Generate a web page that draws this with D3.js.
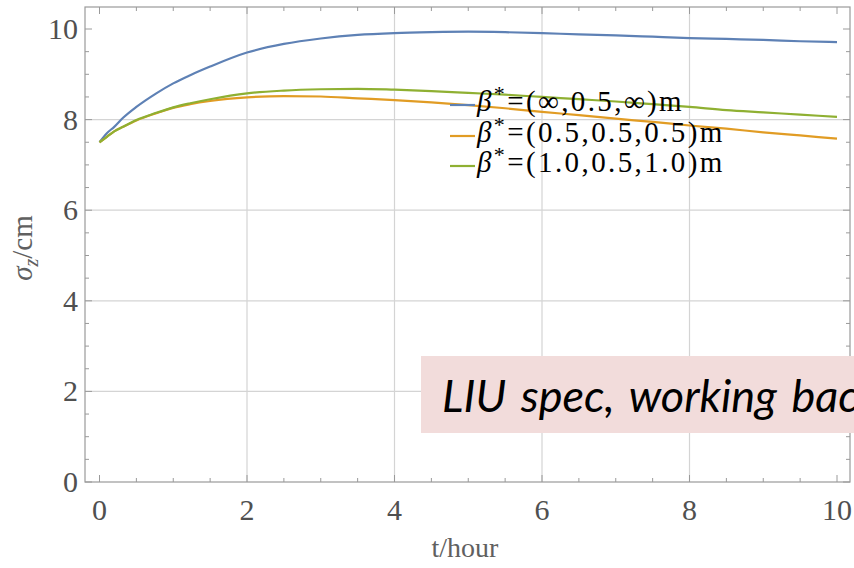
<!DOCTYPE html>
<html>
<head>
<meta charset="utf-8">
<script src="https://cdn.jsdelivr.net/npm/d3@7"></script>
<style>
  html, body { margin: 0; padding: 0; background: #fff; }
  svg { display: block; }
</style>
</head>
<body>
<svg id="chart" width="854" height="568"></svg>
<script>
// Bunch length evolution for three beta* configurations
const hours = [0, 0.1, 0.2, 0.32, 0.5, 0.77, 1, 1.23, 1.5, 2, 2.5, 3, 3.5, 4, 4.5, 5, 5.5, 6, 6.5, 7, 7.5, 8, 8.5, 9, 9.5, 10];
const sigmaInf = [7.5, 7.70, 7.84, 8.04, 8.28, 8.58, 8.80, 8.98, 9.17, 9.48, 9.67, 9.79, 9.87, 9.91, 9.93, 9.94, 9.93, 9.91, 9.88, 9.86, 9.83, 9.80, 9.78, 9.76, 9.73, 9.71];
const sigma05 = [7.5, 7.62, 7.74, 7.84, 7.98, 8.14, 8.26, 8.34, 8.41, 8.49, 8.52, 8.51, 8.47, 8.43, 8.38, 8.32, 8.25, 8.17, 8.10, 8.02, 7.95, 7.87, 7.80, 7.72, 7.65, 7.58];
const sigma10 = [7.5, 7.62, 7.74, 7.84, 7.99, 8.15, 8.27, 8.36, 8.45, 8.58, 8.64, 8.67, 8.68, 8.66, 8.63, 8.59, 8.55, 8.50, 8.45, 8.40, 8.34, 8.28, 8.21, 8.16, 8.11, 8.06];
const seriesNames = ["(\u221E,0.5,\u221E)m", "(0.5,0.5,0.5)m", "(1.0,0.5,1.0)m"];
const seriesValues = [sigmaInf, sigma05, sigma10];
const seriesColors = ["#5e81b5", "#e19c24", "#8fb032"];
const xTicks = [0, 2, 4, 6, 8, 10];
const yTicks = [0, 2, 4, 6, 8, 10];
const gridValues = [2, 4, 6, 8];
const noteText = "LIU spec, working backwards";

const svg = d3.select("#chart");
const frame = { left: 85, right: 850, top: 7, bottom: 482 };

const x = d3.scaleLinear().domain([0, 10]).range([99.5, 837]);
const y = d3.scaleLinear().domain([0, 10]).range([482, 29]);

const frameColor = "#9a9a9a";
const labelColor = "#505050";
const serif = "'Liberation Serif', 'Times New Roman', serif";

// grid lines
const grid = svg.append("g");
grid.selectAll("line.gx").data(gridValues).join("line")
  .attr("x1", d => x(d)).attr("x2", d => x(d))
  .attr("y1", frame.top).attr("y2", frame.bottom)
  .attr("stroke", "#d4d4d4").attr("stroke-width", 1.2);
grid.selectAll("line.gy").data(gridValues).join("line")
  .attr("y1", d => y(d)).attr("y2", d => y(d))
  .attr("x1", frame.left).attr("x2", frame.right)
  .attr("stroke", "#d4d4d4").attr("stroke-width", 1.2);

// frame ticks (major every 2, minor every 0.5), pointing inward on all sides
const minor = d3.range(0, 10.01, 0.5);
function tickLen(v) { return Math.abs(v % 2) < 1e-6 ? 7 : 4; }
const tg = svg.append("g").attr("stroke", frameColor).attr("stroke-width", 1);
tg.selectAll("line.bt").data(minor).join("line")
  .attr("x1", d => x(d)).attr("x2", d => x(d))
  .attr("y1", frame.bottom).attr("y2", d => frame.bottom - tickLen(d));
tg.selectAll("line.tt").data(minor).join("line")
  .attr("x1", d => x(d)).attr("x2", d => x(d))
  .attr("y1", frame.top).attr("y2", d => frame.top + tickLen(d));
tg.selectAll("line.lt").data(minor).join("line")
  .attr("y1", d => y(d)).attr("y2", d => y(d))
  .attr("x1", frame.left).attr("x2", d => frame.left + tickLen(d));
tg.selectAll("line.rt").data(minor).join("line")
  .attr("y1", d => y(d)).attr("y2", d => y(d))
  .attr("x1", frame.right).attr("x2", d => frame.right - tickLen(d));

// frame box
svg.append("rect")
  .attr("x", frame.left).attr("y", frame.top)
  .attr("width", frame.right - frame.left).attr("height", frame.bottom - frame.top)
  .attr("fill", "none").attr("stroke", frameColor).attr("stroke-width", 1.2);

// tick labels
svg.append("g").selectAll("text").data(xTicks).join("text")
  .attr("x", d => x(d)).attr("y", 520)
  .attr("text-anchor", "middle")
  .attr("font-family", serif).attr("font-size", 30).attr("fill", labelColor)
  .text(d => d);
svg.append("g").selectAll("text").data(yTicks).join("text")
  .attr("x", 78).attr("y", d => y(d) + 10)
  .attr("text-anchor", "end")
  .attr("font-family", serif).attr("font-size", 30).attr("fill", labelColor)
  .text(d => d);

// axis titles
svg.append("text")
  .attr("x", 465).attr("y", 557)
  .attr("text-anchor", "middle")
  .attr("font-family", serif).attr("font-size", 28).attr("fill", "#606060")
  .text("t/hour");
const yl = svg.append("text")
  .attr("transform", "translate(32,248) rotate(-90)")
  .attr("text-anchor", "middle")
  .attr("font-family", serif).attr("font-size", 29).attr("fill", "#606060");
yl.append("tspan").attr("font-style", "italic").text("\u03C3");
yl.append("tspan").attr("font-style", "italic").attr("font-size", 20).attr("dy", 6).text("z");
yl.append("tspan").attr("dy", -6).text("/cm");

// curves
const line = d3.line()
  .x((d, i) => x(hours[i]))
  .y(d => y(d))
  .curve(d3.curveMonotoneX);
svg.append("g").selectAll("path").data(seriesValues).join("path")
  .attr("d", d => line(d))
  .attr("fill", "none")
  .attr("stroke", (d, i) => seriesColors[i])
  .attr("stroke-width", 2.2)
  .attr("stroke-linejoin", "round");

// legend
const legend = svg.append("g");
const rowY = [111, 142, 172];
seriesNames.forEach((name, i) => {
  legend.append("line")
    .attr("x1", 450).attr("x2", 475)
    .attr("y1", rowY[i] - 6).attr("y2", rowY[i] - 6)
    .attr("stroke", seriesColors[i]).attr("stroke-width", 2.2);
  const t = legend.append("text")
    .attr("x", 477).attr("y", rowY[i])
    .attr("font-family", serif).attr("font-size", 29)
    .attr("letter-spacing", 2.4).attr("fill", "#000");
  t.append("tspan").attr("font-style", "italic").text("\u03B2");
  t.append("tspan").attr("font-size", 22).attr("dy", -10).text("*");
  t.append("tspan").attr("dy", 10).text("=" + name);
});

// annotation box, running past the right edge of the page
svg.append("rect")
  .attr("x", 421).attr("y", 356)
  .attr("width", 440).attr("height", 77)
  .attr("fill", "#f2dcdb");
svg.append("text")
  .attr("x", 442).attr("y", 412)
  .attr("font-family", "Lato, 'Open Sans', sans-serif")
  .attr("font-style", "italic")
  .attr("font-size", 45)
  .attr("word-spacing", 4)
  .attr("fill", "#000")
  .text(noteText);
</script>
</body>
</html>
